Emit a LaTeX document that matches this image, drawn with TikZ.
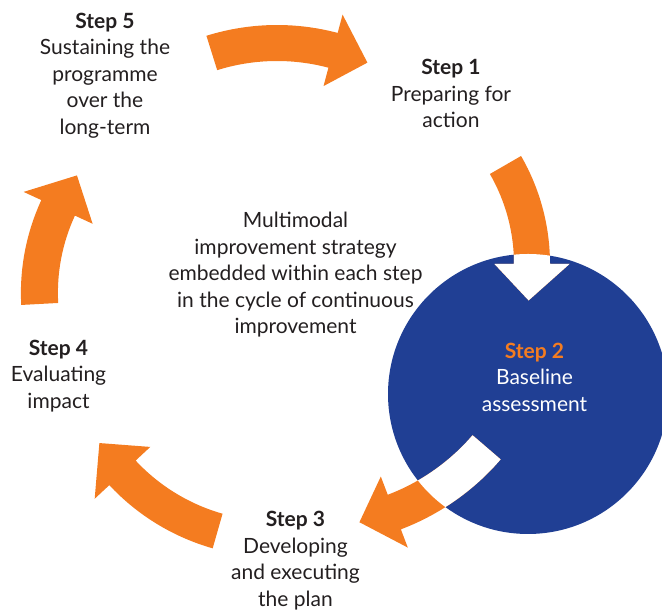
\documentclass[tikz,border=0pt]{standalone}
\usepackage{fontspec}
\setmainfont{Lato}
\usetikzlibrary{calc}
\definecolor{cycleorange}{HTML}{F47C20}
\definecolor{hubblue}{HTML}{203F94}
\definecolor{textgrey}{HTML}{231F20}
% (centre)(start:end:radius:width:tip:head half width)
\def\bandarrow[#1](#2)(#3:#4:#5:#6:#7:#8){%
  \pgfmathsetmacro\arcout{#5+#6/2}\pgfmathsetmacro\arcin{#5-#6/2}%
  \pgfmathsetmacro\headout{#5+#8}\pgfmathsetmacro\headin{#5-#8}%
  \fill[#1] ($(#2)+(#3:\arcout)$) arc[start angle=#3, end angle=#4, radius=\arcout]
    -- ($(#2)+(#4:\headout)$) -- ($(#2)+(#7:#5)$) -- ($(#2)+(#4:\headin)$)
    -- ($(#2)+(#4:\arcin)$) arc[start angle=#4, end angle=#3, radius=\arcin] -- cycle;}

\begin{document}
\begin{tikzpicture}[x=1pt,y=1pt,
  steptext/.style={align=center, font=\fontsize{21}{26.5}\selectfont, text=textgrey, inner sep=0pt}]
			%%%%% START %%%%%
			\clip (0,0) rectangle (662,612);
			
			\fill[hubblue] (528,218) circle (140);
			
			\bandarrow[cycleorange](277,351)(107.4:75.1:218:36:65.5:37)
			\bandarrow[cycleorange](334,348)(30:0:198:36:-10.6:37.5)
			\bandarrow[cycleorange](313,314)(-40.7:-69.2:229:37:-78.3:38)
			\bandarrow[cycleorange](274.6,281)(-105.9:-137:208:36:-147.4:38)
			\bandarrow[cycleorange](242.4,319)(183.1:155.2:203:37:144.6:38)
			
			\begin{scope}
				\clip (528,218) circle (140);
				\bandarrow[white](334,348)(30:0:198:36:-10.6:37.5)
				\bandarrow[white](313,314)(-40.7:-69.2:229:37:-78.3:38)
			\end{scope}
			
			\node[steptext] (step5) at (105,536.5) {\textbf{Step 5}\\Sustaining the\\programme\\over the\\long-term};
			\node[steptext] (step1) at (451,518.5) {\textbf{Step 1}\\Preparing for\\action};
			\node[steptext] (hub) at (295.5,337) {Multimodal\\improvement strategy\\embedded within each step\\in the cycle of continuous\\improvement};
			\node[steptext] (step4) at (58.5,236) {\textbf{Step 4}\\Evaluating\\impact};
			\node[steptext, text=white] (step2) at (534.5,235) {\textcolor{cycleorange}{\textbf{Step 2}}\\Baseline\\assessment};
			\node[steptext] (step3) at (295.5,51.5) {\textbf{Step 3}\\Developing\\and executing\\the plan};
			%%%%% END %%%%%
\end{tikzpicture}
\end{document}
